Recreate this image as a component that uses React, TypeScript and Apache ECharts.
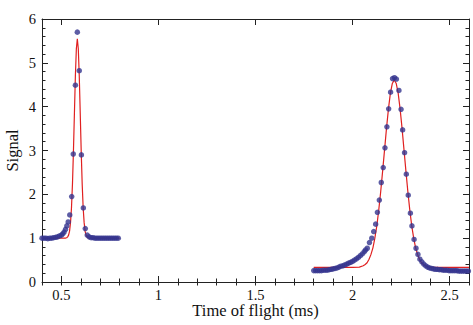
import React, { useEffect, useRef } from 'react';
import * as echarts from 'echarts';

// Tick values
const xLabelTicks = [0.5, 1, 1.5, 2, 2.5];
const xMinorTicks = [0.4, 0.5, 0.6, 0.7, 0.8, 0.9, 1.0, 1.1, 1.2, 1.3, 1.4, 1.5, 1.6, 1.7, 1.8, 1.9, 2.0, 2.1, 2.2, 2.3, 2.4, 2.5, 2.6];

// Measured signal, first peak (x in ms, signal)
const peak1Points: [number, number][] = [
  [0.400, 1.00], [0.410, 1.00], [0.420, 1.00], [0.430, 0.99], [0.440, 1.00], [0.450, 1.00],
  [0.460, 1.01], [0.470, 1.02], [0.480, 1.03], [0.490, 1.05], [0.500, 1.07], [0.507, 1.10],
  [0.514, 1.14], [0.521, 1.20], [0.528, 1.28], [0.535, 1.37], [0.543, 1.53], [0.553, 1.95],
  [0.561, 2.92], [0.572, 4.49], [0.582, 5.70], [0.592, 4.82], [0.603, 2.90], [0.613, 1.69],
  [0.623, 1.22], [0.633, 1.07], [0.643, 1.03], [0.653, 1.01], [0.663, 1.01], [0.673, 1.00],
  [0.683, 1.00], [0.693, 1.00], [0.703, 1.00], [0.713, 1.00], [0.723, 1.00], [0.733, 1.00],
  [0.743, 1.00], [0.753, 1.00], [0.763, 1.00], [0.773, 1.00], [0.783, 1.00], [0.793, 1.00],
];

// Measured signal, second peak
const peak2Points: [number, number][] = [
  [1.80, 0.26], [1.81, 0.26], [1.82, 0.26], [1.83, 0.26], [1.84, 0.26], [1.85, 0.27],
  [1.86, 0.27], [1.87, 0.27], [1.88, 0.28], [1.89, 0.29], [1.90, 0.30], [1.91, 0.31],
  [1.92, 0.32], [1.93, 0.34], [1.94, 0.36], [1.95, 0.37], [1.96, 0.39], [1.97, 0.41],
  [1.98, 0.43], [1.99, 0.45], [2.00, 0.47], [2.01, 0.50], [2.02, 0.53], [2.03, 0.56],
  [2.04, 0.60], [2.05, 0.64], [2.06, 0.69], [2.067, 0.73], [2.076, 0.77], [2.087, 0.90],
  [2.099, 1.00], [2.109, 1.15], [2.119, 1.32], [2.128, 1.59], [2.138, 1.87], [2.148, 2.27],
  [2.158, 2.61], [2.167, 3.06], [2.177, 3.54], [2.186, 3.95], [2.196, 4.33], [2.206, 4.64],
  [2.216, 4.66], [2.226, 4.63], [2.239, 4.37], [2.250, 3.94], [2.258, 3.47], [2.268, 2.95],
  [2.277, 2.46], [2.287, 1.98], [2.298, 1.57], [2.306, 1.28], [2.317, 0.97], [2.327, 0.77],
  [2.337, 0.63], [2.347, 0.52], [2.357, 0.46], [2.367, 0.41], [2.377, 0.37], [2.387, 0.34],
  [2.397, 0.32], [2.407, 0.31], [2.417, 0.30], [2.427, 0.29], [2.437, 0.29], [2.447, 0.28],
  [2.457, 0.28], [2.467, 0.27], [2.477, 0.27], [2.487, 0.27], [2.497, 0.26], [2.507, 0.26],
  [2.517, 0.26], [2.527, 0.26], [2.537, 0.26], [2.547, 0.25], [2.557, 0.25], [2.567, 0.25],
  [2.577, 0.25], [2.587, 0.25], [2.597, 0.25],
];

// Fitted curve, first peak
const fit1Points: [number, number][] = [
  [0.400, 1.00], [0.520, 1.00], [0.527, 1.01], [0.532, 1.03], [0.537, 1.07], [0.542, 1.16],
  [0.547, 1.36], [0.552, 1.70], [0.557, 2.24], [0.562, 2.98], [0.567, 3.85], [0.572, 4.70],
  [0.577, 5.32], [0.582, 5.55], [0.587, 5.32], [0.592, 4.70], [0.597, 3.85], [0.602, 2.98],
  [0.607, 2.24], [0.612, 1.70], [0.617, 1.36], [0.622, 1.16], [0.627, 1.07], [0.632, 1.03],
  [0.637, 1.01], [0.642, 1.00], [0.800, 1.00],
];

// Fitted curve, second peak
const fit2Points: [number, number][] = [
  [1.800, 0.335], [2.000, 0.335], [2.035, 0.34], [2.055, 0.37], [2.065, 0.40], [2.075, 0.44],
  [2.085, 0.52], [2.095, 0.63], [2.105, 0.78], [2.115, 1.00], [2.125, 1.28], [2.135, 1.64],
  [2.145, 2.06], [2.155, 2.53], [2.165, 3.02], [2.175, 3.51], [2.185, 3.95], [2.195, 4.31],
  [2.205, 4.53], [2.215, 4.61], [2.225, 4.53], [2.235, 4.31], [2.245, 3.95], [2.255, 3.51],
  [2.265, 3.02], [2.275, 2.53], [2.285, 2.06], [2.295, 1.64], [2.305, 1.28], [2.315, 1.00],
  [2.325, 0.78], [2.335, 0.63], [2.345, 0.52], [2.355, 0.44], [2.365, 0.40], [2.375, 0.37],
  [2.395, 0.34], [2.420, 0.335], [2.600, 0.335],
];

const FONT = "'Liberation Serif', 'Times New Roman', serif";
const AXIS_COLOR = '#222';
const DOT_COLOR = '#35358f';
const FIT_COLOR = '#e02020';

export default function App() {
  const ref = useRef<HTMLDivElement>(null);
  useEffect(() => {
    if (!ref.current) return;
    const chart = echarts.init(ref.current, null, { renderer: 'svg' });
    const baseX: any = {
      type: 'value',
      min: 0.4,
      max: 2.6,
      splitLine: { show: false },
      axisLine: { show: true, onZero: false, lineStyle: { color: AXIS_COLOR, width: 1 } },
    };
    const majorX = (pos: string, withLabels: boolean) => ({
      ...baseX,
      position: pos,
      axisTick: { show: true, inside: true, length: 6, customValues: xLabelTicks, lineStyle: { color: AXIS_COLOR } },
      axisLabel: withLabels
        ? { show: true, customValues: xLabelTicks, fontFamily: FONT, fontSize: 14.5, color: '#111', margin: 5 }
        : { show: false },
      ...(withLabels
        ? {
            name: 'Time of flight (ms)',
            nameLocation: 'middle',
            nameGap: 20,
            nameMoveOverlap: false,
            nameTextStyle: { fontFamily: FONT, fontSize: 16.5, color: '#111' },
          }
        : {}),
    });
    const minorX = (pos: string) => ({
      ...baseX,
      position: pos,
      axisLine: { show: false },
      axisTick: { show: true, inside: true, length: 3.5, customValues: xMinorTicks, lineStyle: { color: AXIS_COLOR } },
      axisLabel: { show: false },
    });
    const yAx = (pos: string, withLabels: boolean) => ({
      type: 'value',
      position: pos,
      min: 0,
      max: 6,
      interval: 1,
      splitLine: { show: false },
      axisLine: { show: true, onZero: false, lineStyle: { color: AXIS_COLOR, width: 1 } },
      axisTick: { show: true, inside: true, length: 6, lineStyle: { color: AXIS_COLOR } },
      minorTick: { show: true, splitNumber: 5, length: 3.5, lineStyle: { color: AXIS_COLOR } },
      axisLabel: withLabels
        ? { show: true, fontFamily: FONT, fontSize: 14.5, color: '#111', margin: 6 }
        : { show: false },
      ...(withLabels
        ? {
            name: 'Signal',
            nameLocation: 'middle',
            nameGap: 21,
            nameRotate: 90,
            nameMoveOverlap: false,
            nameTextStyle: { fontFamily: FONT, fontSize: 16.5, color: '#111' },
          }
        : {}),
    });
    chart.setOption({
      animation: false,
      backgroundColor: '#ffffff',
      grid: { left: 42, right: 4, top: 19, bottom: 43, containLabel: false, outerBoundsMode: 'none' },
      xAxis: [majorX('bottom', true), minorX('bottom'), majorX('top', false), minorX('top')],
      yAxis: [yAx('left', true), yAx('right', false)],
      series: [
        {
          type: 'line', data: fit1Points, xAxisIndex: 0, yAxisIndex: 0, showSymbol: false, symbol: 'none',
          lineStyle: { color: FIT_COLOR, width: 1.2 }, z: 2, silent: true,
        },
        {
          type: 'line', data: fit2Points, xAxisIndex: 0, yAxisIndex: 0, showSymbol: false, symbol: 'none',
          lineStyle: { color: FIT_COLOR, width: 1.2 }, z: 2, silent: true,
        },
        {
          type: 'scatter', data: peak1Points, xAxisIndex: 0, yAxisIndex: 0, symbolSize: 5.5,
          itemStyle: { color: DOT_COLOR }, z: 3, silent: true,
        },
        {
          type: 'scatter', data: peak2Points, xAxisIndex: 0, yAxisIndex: 0, symbolSize: 5.5,
          itemStyle: { color: DOT_COLOR }, z: 3, silent: true,
        },
      ],
    });
    return () => chart.dispose();
  }, []);
  return (
    <div
      ref={ref}
      style={{ position: 'fixed', left: 0, top: 0, width: 473, height: 325, background: '#fff' }}
    />
  );
}
